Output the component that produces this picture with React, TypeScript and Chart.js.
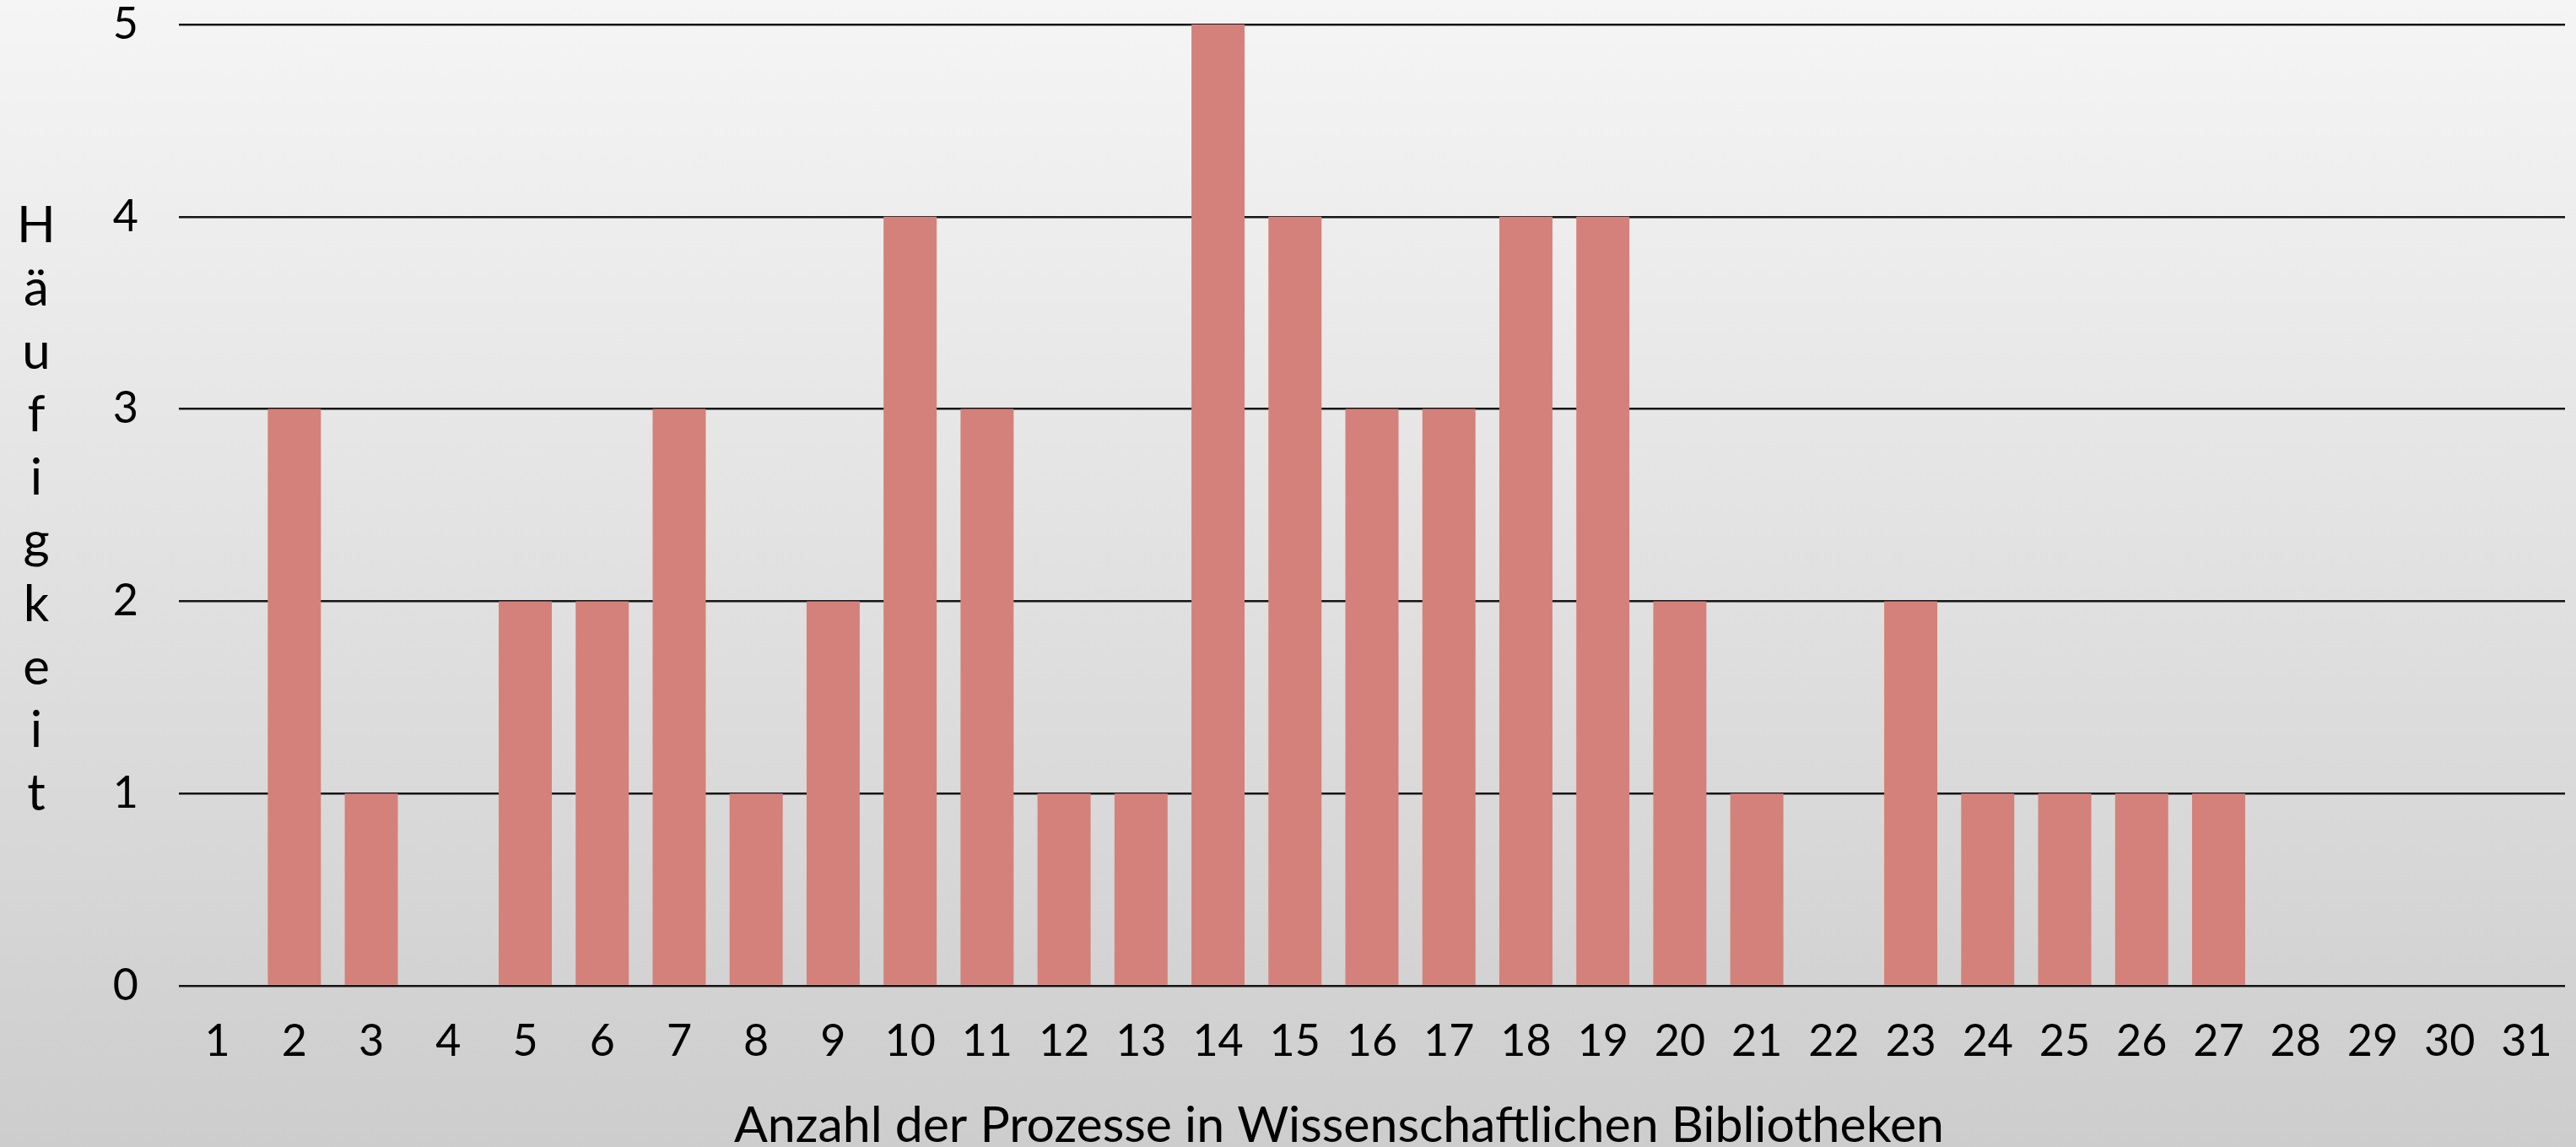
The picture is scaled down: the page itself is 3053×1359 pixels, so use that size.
import React, { useEffect, useRef } from "react";
import { Chart, registerables } from "chart.js";

Chart.register(...registerables);

const categories: string[] = [
  "1", "2", "3", "4", "5", "6", "7", "8", "9", "10",
  "11", "12", "13", "14", "15", "16", "17", "18", "19", "20",
  "21", "22", "23", "24", "25", "26", "27", "28", "29", "30", "31",
];

const frequencies: number[] = [
  0, 3, 1, 0, 2, 2, 3, 1, 2, 4,
  3, 1, 1, 5, 4, 3, 3, 4, 4, 2,
  1, 0, 2, 1, 1, 1, 1, 0, 0, 0, 0,
];

const yTicks: number[] = [0, 1, 2, 3, 4, 5];

const xTitle = "Anzahl der Prozesse in Wissenschaftlichen Bibliotheken";
const yTitle = "Häufigkeit";

const FONT = "Lato, 'Open Sans', 'DejaVu Sans', sans-serif";

const axisTitlesPlugin = {
  id: "axisTitles",
  afterDraw(chart: any) {
    const { ctx, chartArea } = chart;
    ctx.save();
    ctx.fillStyle = "#000000";
    ctx.textAlign = "center";
    ctx.textBaseline = "alphabetic";

    // stacked vertical y title
    const letters = Array.from(yTitle);
    const step = 74.8;
    const firstBaseline = chartArea.top + 258;
    ctx.font = `60px ${FONT}`;
    letters.forEach((ch, i) => {
      ctx.fillText(ch, 43, firstBaseline + i * step);
    });

    // x title (slightly left of the plot centre, as in the original)
    ctx.font = `59px ${FONT}`;
    const cx = (chartArea.left + chartArea.right) / 2 - 39;
    ctx.fillText(xTitle, cx, chartArea.bottom + 185);
    ctx.restore();
  },
};

export default function App() {
  const canvasRef = useRef<HTMLCanvasElement | null>(null);

  useEffect(() => {
    document.body.style.margin = "0";
    const canvas = canvasRef.current;
    if (!canvas) return;
    const chart = new Chart(canvas, {
      type: "bar",
      data: {
        labels: categories,
        datasets: [
          {
            label: yTitle,
            data: frequencies,
            backgroundColor: "#d3817a",
            borderWidth: 0,
            categoryPercentage: 1,
            barPercentage: 0.69,
          },
        ],
      },
      options: {
        animation: false,
        responsive: true,
        maintainAspectRatio: false,
        layout: {
          padding: { left: 0, right: 13, top: 29, bottom: 0 },
        },
        plugins: {
          legend: { display: false },
          tooltip: { enabled: false },
          title: { display: false },
        },
        scales: {
          x: {
            grid: { display: false },
            border: { display: false },
            ticks: {
              color: "#000000",
              font: { family: FONT, size: 52, lineHeight: 1.2 },
              padding: 27,
              maxRotation: 0,
              autoSkip: false,
            },
            title: { display: false, text: xTitle },
            afterFit: (axis: any) => {
              axis.height = 191;
              axis.paddingLeft = 0;
              axis.paddingRight = 0;
            },
          },
          y: {
            min: 0,
            max: 5,
            afterBuildTicks: (axis: any) => {
              axis.ticks = yTicks.map((v) => ({ value: v }));
            },
            grid: {
              color: "#141414",
              lineWidth: 2.5,
              drawTicks: false,
            },
            border: { display: false },
            ticks: {
              color: "#000000",
              font: { family: FONT, size: 52, lineHeight: 1.2 },
              padding: 48,
              stepSize: 1,
            },
            title: { display: false, text: yTitle },
            afterFit: (axis: any) => {
              axis.width = 212;
              axis.paddingTop = 0;
              axis.paddingBottom = 0;
            },
          },
        },
      },
      plugins: [axisTitlesPlugin],
    });
    return () => chart.destroy();
  }, []);

  return (
    <div
      style={{
        position: "relative",
        width: "3053px",
        height: "1359px",
        background: "linear-gradient(to bottom, #f5f5f5 0%, #cdcdcd 100%)",
      }}
    >
      <canvas ref={canvasRef} />
    </div>
  );
}
